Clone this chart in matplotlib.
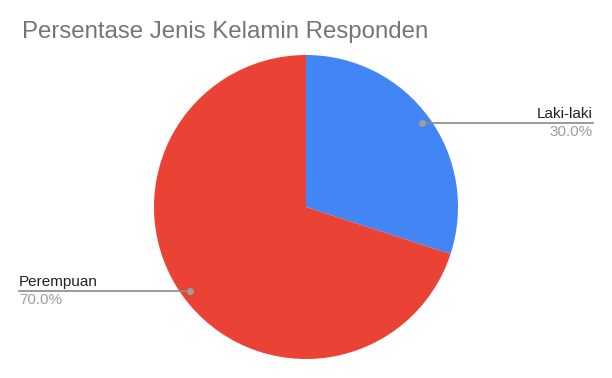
import numpy as np
import matplotlib.pyplot as plt

# data
labels = ["Laki-laki", "Perempuan"]
values = [30.0, 70.0]
colors = ["#4285F4", "#EA4335"]

W, H = 612, 378

fig = plt.figure(figsize=(W / 100, H / 100), dpi=100)
ax = fig.add_axes([0, 0, 1, 1])

cx, cy, r = 306, H - 207, 152
wedges, _ = ax.pie(values, colors=colors, startangle=90, counterclock=False,
                   center=(cx, cy), radius=r, frame=True,
                   wedgeprops=dict(linewidth=0))
ax.set_xlim(0, W)
ax.set_ylim(0, H)
ax.set_aspect("equal")
ax.axis("off")

ax.text(22, H - 32, "Persentase Jenis Kelamin Responden", fontsize=17.3,
        color="#757575", family=["Liberation Sans", "DejaVu Sans"],
        va="center", ha="left")

line_ends = {"Laki-laki": 593, "Perempuan": 19}
for w, lab, v in zip(wedges, labels, values):
    ang = np.deg2rad((w.theta1 + w.theta2) / 2)
    px = cx + 0.94 * r * np.cos(ang)
    py = cy + 0.94 * r * np.sin(ang)
    xe = line_ends[lab]
    ax.plot([px, xe], [py, py], color="#8a8a8a", lw=1.2, zorder=3)
    ax.plot(px, py, "o", color="#9e9e9e", ms=4, zorder=4)
    ha = "right" if xe > cx else "left"
    ax.text(xe, py + 2, lab, fontsize=11, color="#222222", ha=ha, va="bottom",
            family=["Liberation Sans", "DejaVu Sans"])
    ax.text(xe, py - 2, f"{v:.1f}%", fontsize=11, color="#9e9e9e", ha=ha,
            va="top", family=["Liberation Sans", "DejaVu Sans"])

fig.savefig("out.png", dpi=100, facecolor="white")
